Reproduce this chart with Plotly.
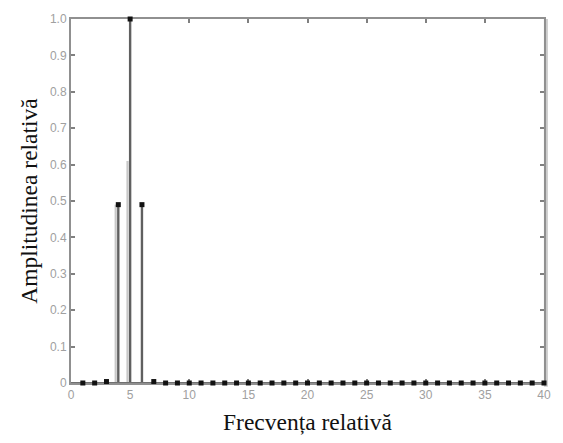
import plotly.graph_objects as go

# Relative frequency bins and their relative amplitudes (stem plot)
freq = list(range(1, 41))
amp = [0, 0, 0.004, 0.49, 1.0, 0.49, 0.004] + [0] * 33

# Lighter companion stems drawn just left of the main stems
shade_freq = [4, 5]
shade_amp = [0.49, 0.61]
shade_offset = -0.22

x_ticks = list(range(0, 41, 5))
y_ticks = [round(0.1 * i, 1) for i in range(11)]
y_tick_text = ["0"] + [f"{v:.1f}" for v in y_ticks[1:]]


def stem_path(xs, ys, dx=0.0):
    px, py = [], []
    for x, y in zip(xs, ys):
        if y <= 0:
            continue
        px += [x + dx, x + dx, None]
        py += [0, y, None]
    return px, py


fig = go.Figure()

sx, sy = stem_path(shade_freq, shade_amp, shade_offset)
fig.add_trace(go.Scatter(x=sx, y=sy, mode="lines",
                         line=dict(color="#c8c8c8", width=2.2),
                         hoverinfo="skip", showlegend=False))

mx, my = stem_path(freq, amp)
fig.add_trace(go.Scatter(x=mx, y=my, mode="lines",
                         line=dict(color="#606060", width=2.4),
                         hoverinfo="skip", showlegend=False, cliponaxis=False))

# Baseline
fig.add_trace(go.Scatter(x=[0, 40], y=[0, 0], mode="lines",
                         line=dict(color="#707070", width=2),
                         hoverinfo="skip", showlegend=False, cliponaxis=False))

fig.add_trace(go.Scatter(x=freq, y=amp, mode="markers",
                         marker=dict(symbol="square", size=5, color="#111111",
                                     line=dict(width=0)),
                         showlegend=False, cliponaxis=False))

axis_font = dict(family="Liberation Sans, Arial", size=12, color="#a0a0a0")
title_font = dict(family="Liberation Serif, Times New Roman", size=23.5, color="#111111")

fig.update_xaxes(range=[0, 40], tickvals=x_ticks, ticktext=[str(t) for t in x_ticks],
                 ticks="inside", ticklen=4, tickwidth=2, tickcolor="#808080",
                 showline=True, linecolor="#909090", linewidth=2, mirror="ticks",
                 showgrid=False, zeroline=False, tickfont=axis_font, layer="below traces",
                 title=dict(text="Frecvența relativă", font=title_font, standoff=12))
fig.update_yaxes(range=[0, 1.0], tickvals=y_ticks, ticktext=y_tick_text,
                 ticks="inside", ticklen=4, tickwidth=2, tickcolor="#808080",
                 showline=True, linecolor="#909090", linewidth=2, mirror="ticks",
                 showgrid=False, zeroline=False, tickfont=axis_font, layer="below traces",
                 title=dict(text="Amplitudinea relativă", font=title_font, standoff=6))

# Lighter right-hand frame edge
fig.add_shape(type="line", xref="paper", yref="paper", x0=1.004, x1=1.004, y0=-0.01, y1=1.0,
              line=dict(color="#cccccc", width=4), layer="below")

fig.update_layout(width=563, height=443,
                  margin=dict(l=71, r=15, t=14, b=59),
                  plot_bgcolor="white", paper_bgcolor="white")

fig.write_html("out.html")
